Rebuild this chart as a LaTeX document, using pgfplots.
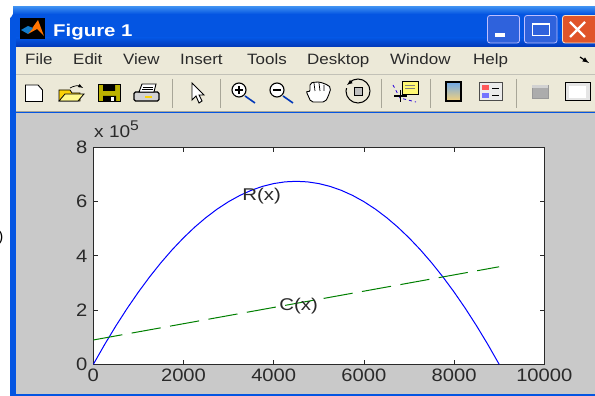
\documentclass[border=0pt]{standalone}
\usepackage{fontspec}
\setmainfont{Liberation Sans}
\usepackage{pgfplots}
\pgfplotsset{compat=1.18}
\definecolor{xpblue}{HTML}{0455E2}
\definecolor{xpdark}{HTML}{0238B8}
\definecolor{xplight}{HTML}{3A8CF0}
\definecolor{beige}{HTML}{ECE9D8}
\definecolor{panel}{HTML}{C9C9C9}
\definecolor{ink}{HTML}{2A2A2A}
\definecolor{sepgray}{HTML}{A8A698}
\definecolor{btnred}{HTML}{E0552A}
\definecolor{btnblue}{HTML}{2F62DC}
\definecolor{cbtop}{HTML}{6FA8E8}
\definecolor{cbmid}{HTML}{B4E4B8}
\definecolor{cbbot}{HTML}{F5D27A}
\tikzset{menu/.style={anchor=base west,inner sep=0pt,font=\fontsize{15}{15}\selectfont,text=ink,xscale=1.13,transform shape}}
\begin{document}
\begin{tikzpicture}
% window, coordinates in image pixels (y down)
\begin{scope}[x=1pt,y=-1pt,yshift=396pt]
  \path[use as bounding box] (0,0) rectangle (595,396);
  \fill[white] (0,0) rectangle (595,396);
  \fill[xpblue] (10,396) -- (10,17) to[out=-90,in=180] (20,7) -- (595,7) -- (595,396) -- cycle;
  \shade[top color=xplight,bottom color=xpblue] (13,7) rectangle (595,14);
  \shade[top color=xpblue,bottom color=xpdark] (16,38) rectangle (595,47);
  \fill[beige] (16,47) rectangle (595,112);
  \draw[sepgray!70,line width=0.7pt] (16,74.5) -- (595,74.5);
  \draw[sepgray,line width=0.7pt] (16,111.5) -- (595,111.5);
  \fill[panel] (16,113) rectangle (595,394.5);
  % title
  \fill[black] (20,18) rectangle (45,39);
  \fill[orange!90!red] (28,34) -- (38,20) -- (44,36) -- (37,29) -- cycle;
  \fill[cyan!60!blue] (21,30) -- (28,26) -- (33,28) -- (28,34) -- cycle;
  \node[anchor=base west,inner sep=0pt,text=white,font=\fontsize{17}{17}\selectfont\bfseries,xscale=1.2,transform shape] at (53,37) {Figure 1};
  % title bar buttons
  \fill[btnblue,draw=white!75!blue,line width=0.8pt,rounded corners=2.5pt] (487.5,15.5) rectangle (519.5,43);
  \fill[white] (495,33) rectangle (505,37);
  \fill[btnblue,draw=white!75!blue,line width=0.8pt,rounded corners=2.5pt] (524.5,15.5) rectangle (557,43);
  \draw[white,line width=1pt] (532,24) rectangle (549,36);
  \draw[white,line width=1.5pt] (532,24) -- (549,24);
  \fill[btnred,draw=white!75!orange,line width=0.8pt,rounded corners=2.5pt] (562.5,15.5) rectangle (600,43);
  \draw[white,line width=2.4pt] (570,22) -- (585,37) (585,22) -- (570,37);
  % menu bar
  \node[menu] at (25,65) {File};
  \node[menu] at (73,65) {Edit};
  \node[menu] at (123,65) {View};
  \node[menu] at (180,65) {Insert};
  \node[menu] at (247,65) {Tools};
  \node[menu] at (307,65) {Desktop};
  \node[menu] at (390,65) {Window};
  \node[menu] at (473,65) {Help};
  \draw[black,line width=1.2pt,-latex] (580,57) -- (589,63);
  % toolbar separators
  \foreach \s in {172,220,381,430,516} \draw[sepgray,line width=0.9pt] (\s,79) -- (\s,108);
  % new, open, save, print
  \draw[black,fill=white,line width=0.9pt] (25.5,85) -- (38,85) -- (42.5,90) -- (42.5,101.5) -- (25.5,101.5) -- cycle;
  \draw[black,fill=yellow!70!orange,line width=0.8pt] (59,101) -- (59,90) -- (70,90) -- (72,93) -- (80,93) -- (80,101) -- cycle;
  \draw[black,fill=yellow!45,line width=0.8pt] (59,101) -- (65,94) -- (84,94) -- (78,101) -- cycle;
  \draw[black,line width=0.7pt,-latex] (70,88) to[bend left=30] (83,88);
  \draw[black,fill=olive!60!yellow,line width=1pt] (98.5,84.5) rectangle (120,102);
  \fill[black] (103,84.5) rectangle (115,91) (103,96) rectangle (116,102);
  \fill[white] (111,97) rectangle (114,101);
  \draw[black,fill=gray!35,line width=1.1pt,rounded corners=1.5pt] (134,92) rectangle (159,101);
  \draw[black,fill=white,line width=0.9pt] (139,92) -- (142,84) -- (156,84) -- (154,92) -- cycle;
  \draw[black,line width=0.6pt] (143,87) -- (153,87) (142,89.5) -- (153,89.5);
  \fill[yellow!70!orange] (145,96) rectangle (152,98);
  % pointer
  \draw[black,fill=white,line width=0.9pt] (192,83) -- (192,100) -- (196,96) -- (199,103) -- (202,101) -- (199,95) -- (204,95) -- cycle;
  % zoom in, zoom out
  \foreach \a/\b in {231/1,269/0}{
    \draw[black,fill=white,line width=1.1pt] (\a+8,90) circle (7);
    \draw[black,line width=1.2pt] (\a+4,90) -- (\a+12,90);
    \ifnum\b=1 \draw[black,line width=1.2pt] (\a+8,86) -- (\a+8,94);\fi
    \draw[xpdark,line width=1.6pt] (\a+14,96) -- (\a+24,103);
  }
  % hand
  \draw[black,fill=white,line width=0.9pt,rounded corners=2pt] (311,102) -- (306,91) -- (310,92) -- (310,83) -- (316,82) -- (320,82) -- (325,84) -- (328,85) -- (331,88) -- (328,97) -- (325,102) -- cycle;
  \draw[black,line width=0.7pt] (314,83) -- (315,91) (319,83) -- (320,91) (324,85) -- (324,91);
  % rotate
  \draw[black,line width=1pt] (358,91) circle (12);
  \fill[beige] (345,83) rectangle (352,88);
  \draw[black,line width=0.9pt,-latex] (352,81) -- (347,85);
  \draw[black,fill=gray!50,line width=0.7pt] (354,87) rectangle (362,95);
  % data cursor
  \draw[blue!70!violet,line width=0.8pt,dashed] (393,85) -- (400,98) -- (416,102);
  \draw[black,fill=yellow!55,line width=0.7pt] (402,81) rectangle (418,94);
  \draw[gray,line width=0.6pt] (405,85) -- (415,85) (405,88) -- (415,88);
  \draw[black,line width=1.8pt] (394,96) -- (407,96) (400.5,90) -- (400.5,102);
  % colorbar
  \shade[top color=cbtop,middle color=cbmid,bottom color=cbbot] (446,82) rectangle (461,101);
  \draw[black,line width=1.1pt] (446,82) rectangle (461,101);
  % legend
  \draw[black!70,fill=gray!15,line width=1pt] (479,83) rectangle (502,101);
  \fill[red!65] (482,85.5) rectangle (489,90.5);
  \fill[blue!55] (482,93) rectangle (489,98);
  \draw[black,line width=0.8pt] (492,88) -- (499,88) (492,95.5) -- (499,95.5);
  % hide plot tools, plot tools
  \draw[gray!80,fill=gray!65,line width=0.6pt] (532,85) rectangle (548,98);
  \fill[gray!35] (532,85) rectangle (548,88);
  \draw[black,fill=gray!20,line width=1pt] (565,83) rectangle (590,101);
  \fill[white] (569,86) rectangle (586,98);
  % clipped text at the left edge
  \node[anchor=east,inner sep=0pt,text=black,font=\fontsize{15}{15}\selectfont] at (3.5,238) {)};
\end{scope}
\begin{axis}[
  at={(93.3pt,31.6pt)}, anchor=south west,
  width=451pt, height=217pt, scale only axis,
  xmin=0, xmax=10000, ymin=0, ymax=800000,
  axis line style={ink,line width=1pt},
  axis background/.style={fill=white},
  tick align=inside, tick style={ink,line width=0.8pt},
  major tick length=4.5pt,
  xtick={0,2000,4000,6000,8000,10000},
  ytick={0,200000,400000,600000,800000},
  yticklabels={0,2,4,6,8},
  scaled y ticks=false, scaled x ticks=false,
  xticklabel style={/pgf/number format/1000 sep={},/pgf/number format/assume math mode=true},
  ticklabel style={font=\fontsize{18}{18}\selectfont,text=ink,xscale=1.12,transform shape},
  xticklabel shift=1pt, yticklabel shift=2pt,
  clip=true,
]
\addplot[blue,line width=1pt] coordinates {
  (0,0)(250,72917)(500,141667)(750,206250)(1000,266667)(1250,322917)(1500,375000)
  (1750,422917)(2000,466667)(2250,506250)(2500,541667)(2750,572917)(3000,600000)
  (3250,622917)(3500,641667)(3750,656250)(4000,666667)(4250,672917)(4500,675000)
  (4750,672917)(5000,666667)(5250,656250)(5500,641667)(5750,622917)(6000,600000)
  (6250,572917)(6500,541667)(6750,506250)(7000,466667)(7250,422917)(7500,375000)
  (7750,322917)(8000,266667)(8250,206250)(8500,141667)(8750,72917)(9000,0)
};
\addplot[green!50!black,line width=1pt,dash pattern=on 29.5pt off 9.5pt] coordinates {
  (0,90000)(3000,180000)(6000,270000)(9000,360000)
};
\node[anchor=west,inner sep=0pt,text=ink,font=\fontsize{17}{17}\selectfont,xscale=1.2,transform shape] at (axis cs:3300,620000) {R(x)};
\node[anchor=west,inner sep=0pt,text=ink,font=\fontsize{17}{17}\selectfont,xscale=1.2,transform shape] at (axis cs:4120,215000) {C(x)};
\end{axis}
\node[anchor=base west,inner sep=0pt,text=ink,font=\fontsize{17}{17}\selectfont,xscale=1.12,transform shape] at (94pt,258pt) {x 10\raisebox{7pt}{\fontsize{14}{14}\selectfont 5}};
\end{tikzpicture}
\end{document}
